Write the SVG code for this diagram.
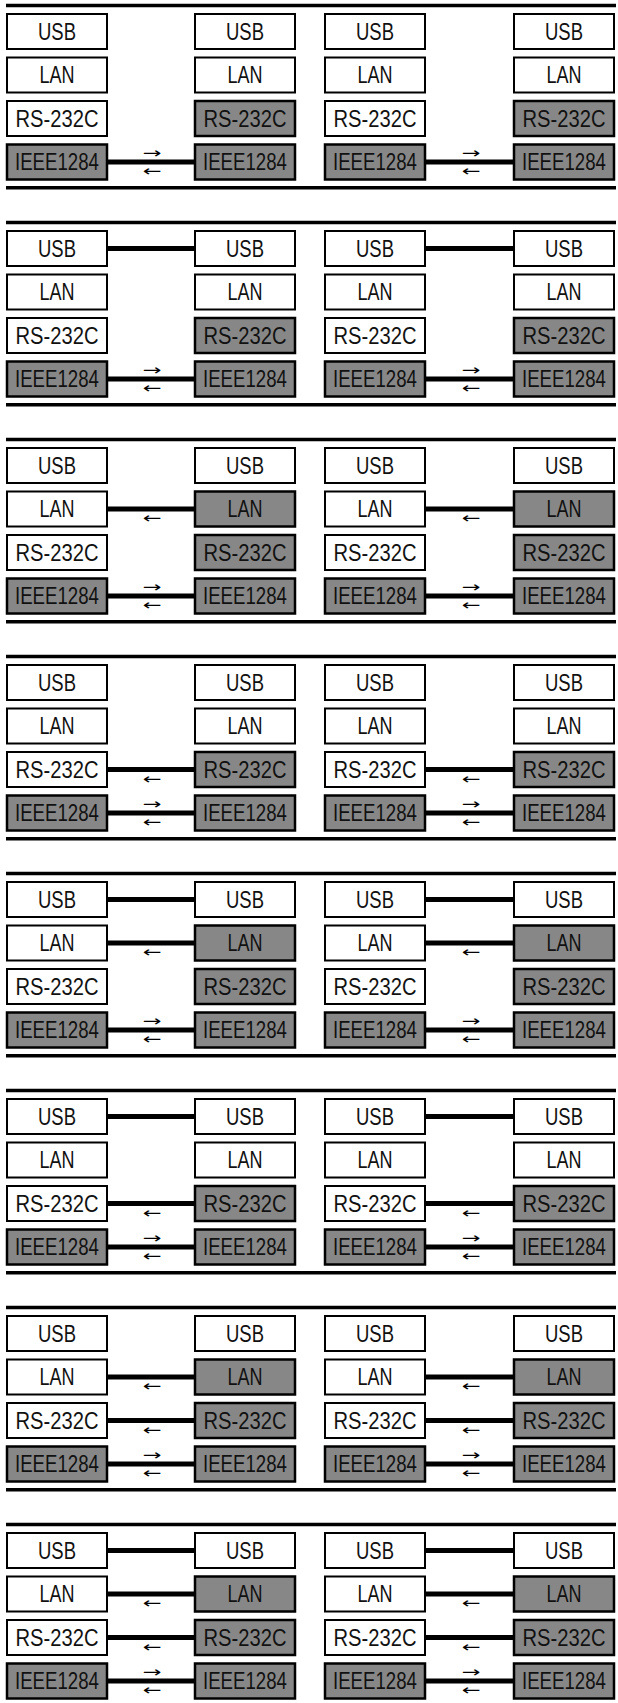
<svg xmlns="http://www.w3.org/2000/svg" width="618" height="1703" viewBox="0 0 618 1703">
<style>
.w{fill:#fff;stroke:#000;stroke-width:2}
.g{fill:#878787;stroke:#000;stroke-width:2.5}
.t{font-family:"Liberation Sans",Arial,sans-serif;font-size:19px;text-anchor:middle;fill:#111}
.sep{stroke:#000;stroke-width:3.5}
.c{stroke:#000;stroke-width:5}
.ar{font-family:"DejaVu Sans",sans-serif;font-size:15px;text-anchor:middle;fill:#000}
</style>
<rect width="618" height="1703" fill="#fff"/>
<g id="separators">
<line class="sep" x1="6" y1="5.5" x2="616" y2="5.5"/><line class="sep" x1="6" y1="187.75" x2="616" y2="187.75"/>
<line class="sep" x1="6" y1="222.5" x2="616" y2="222.5"/><line class="sep" x1="6" y1="404.75" x2="616" y2="404.75"/>
<line class="sep" x1="6" y1="439.5" x2="616" y2="439.5"/><line class="sep" x1="6" y1="621.75" x2="616" y2="621.75"/>
<line class="sep" x1="6" y1="656.5" x2="616" y2="656.5"/><line class="sep" x1="6" y1="838.75" x2="616" y2="838.75"/>
<line class="sep" x1="6" y1="873.5" x2="616" y2="873.5"/><line class="sep" x1="6" y1="1055.75" x2="616" y2="1055.75"/>
<line class="sep" x1="6" y1="1090.5" x2="616" y2="1090.5"/><line class="sep" x1="6" y1="1272.75" x2="616" y2="1272.75"/>
<line class="sep" x1="6" y1="1307.5" x2="616" y2="1307.5"/><line class="sep" x1="6" y1="1489.75" x2="616" y2="1489.75"/>
<line class="sep" x1="6" y1="1524.5" x2="616" y2="1524.5"/>
</g>

<g id="s1" transform="translate(0,0)">
<g id="s1-a-usb"><rect class="w" x="7" y="14" width="100" height="35"/><text class="t" transform="scale(1,1.25)" x="57" y="32" textLength="38" lengthAdjust="spacingAndGlyphs">USB</text></g>
<g id="s1-a-lan"><rect class="w" x="7" y="57.5" width="100" height="35"/><text class="t" transform="scale(1,1.25)" x="57" y="66.8" textLength="35" lengthAdjust="spacingAndGlyphs">LAN</text></g>
<g id="s1-a-rs"><rect class="w" x="7" y="101" width="100" height="35"/><text class="t" transform="scale(1,1.25)" x="57" y="101.6" textLength="83" lengthAdjust="spacingAndGlyphs">RS-232C</text></g>
<g id="s1-a-ieee"><rect class="g" x="7" y="144.5" width="100" height="35"/><text class="t" transform="scale(1,1.25)" x="57" y="136.4" textLength="84" lengthAdjust="spacingAndGlyphs">IEEE1284</text></g>
<g id="s1-b-usb"><rect class="w" x="195" y="14" width="100" height="35"/><text class="t" transform="scale(1,1.25)" x="245" y="32" textLength="38" lengthAdjust="spacingAndGlyphs">USB</text></g>
<g id="s1-b-lan"><rect class="w" x="195" y="57.5" width="100" height="35"/><text class="t" transform="scale(1,1.25)" x="245" y="66.8" textLength="35" lengthAdjust="spacingAndGlyphs">LAN</text></g>
<g id="s1-b-rs"><rect class="g" x="195" y="101" width="100" height="35"/><text class="t" transform="scale(1,1.25)" x="245" y="101.6" textLength="83" lengthAdjust="spacingAndGlyphs">RS-232C</text></g>
<g id="s1-b-ieee"><rect class="g" x="195" y="144.5" width="100" height="35"/><text class="t" transform="scale(1,1.25)" x="245" y="136.4" textLength="84" lengthAdjust="spacingAndGlyphs">IEEE1284</text></g>
<g id="s1-c-usb"><rect class="w" x="325" y="14" width="100" height="35"/><text class="t" transform="scale(1,1.25)" x="375" y="32" textLength="38" lengthAdjust="spacingAndGlyphs">USB</text></g>
<g id="s1-c-lan"><rect class="w" x="325" y="57.5" width="100" height="35"/><text class="t" transform="scale(1,1.25)" x="375" y="66.8" textLength="35" lengthAdjust="spacingAndGlyphs">LAN</text></g>
<g id="s1-c-rs"><rect class="w" x="325" y="101" width="100" height="35"/><text class="t" transform="scale(1,1.25)" x="375" y="101.6" textLength="83" lengthAdjust="spacingAndGlyphs">RS-232C</text></g>
<g id="s1-c-ieee"><rect class="g" x="325" y="144.5" width="100" height="35"/><text class="t" transform="scale(1,1.25)" x="375" y="136.4" textLength="84" lengthAdjust="spacingAndGlyphs">IEEE1284</text></g>
<g id="s1-d-usb"><rect class="w" x="514" y="14" width="100" height="35"/><text class="t" transform="scale(1,1.25)" x="564" y="32" textLength="38" lengthAdjust="spacingAndGlyphs">USB</text></g>
<g id="s1-d-lan"><rect class="w" x="514" y="57.5" width="100" height="35"/><text class="t" transform="scale(1,1.25)" x="564" y="66.8" textLength="35" lengthAdjust="spacingAndGlyphs">LAN</text></g>
<g id="s1-d-rs"><rect class="g" x="514" y="101" width="100" height="35"/><text class="t" transform="scale(1,1.25)" x="564" y="101.6" textLength="83" lengthAdjust="spacingAndGlyphs">RS-232C</text></g>
<g id="s1-d-ieee"><rect class="g" x="514" y="144.5" width="100" height="35"/><text class="t" transform="scale(1,1.25)" x="564" y="136.4" textLength="84" lengthAdjust="spacingAndGlyphs">IEEE1284</text></g>
</g>

<g id="s2" transform="translate(0,217)">
<g id="s2-a-usb"><rect class="w" x="7" y="14" width="100" height="35"/><text class="t" transform="scale(1,1.25)" x="57" y="32" textLength="38" lengthAdjust="spacingAndGlyphs">USB</text></g>
<g id="s2-a-lan"><rect class="w" x="7" y="57.5" width="100" height="35"/><text class="t" transform="scale(1,1.25)" x="57" y="66.8" textLength="35" lengthAdjust="spacingAndGlyphs">LAN</text></g>
<g id="s2-a-rs"><rect class="w" x="7" y="101" width="100" height="35"/><text class="t" transform="scale(1,1.25)" x="57" y="101.6" textLength="83" lengthAdjust="spacingAndGlyphs">RS-232C</text></g>
<g id="s2-a-ieee"><rect class="g" x="7" y="144.5" width="100" height="35"/><text class="t" transform="scale(1,1.25)" x="57" y="136.4" textLength="84" lengthAdjust="spacingAndGlyphs">IEEE1284</text></g>
<g id="s2-b-usb"><rect class="w" x="195" y="14" width="100" height="35"/><text class="t" transform="scale(1,1.25)" x="245" y="32" textLength="38" lengthAdjust="spacingAndGlyphs">USB</text></g>
<g id="s2-b-lan"><rect class="w" x="195" y="57.5" width="100" height="35"/><text class="t" transform="scale(1,1.25)" x="245" y="66.8" textLength="35" lengthAdjust="spacingAndGlyphs">LAN</text></g>
<g id="s2-b-rs"><rect class="g" x="195" y="101" width="100" height="35"/><text class="t" transform="scale(1,1.25)" x="245" y="101.6" textLength="83" lengthAdjust="spacingAndGlyphs">RS-232C</text></g>
<g id="s2-b-ieee"><rect class="g" x="195" y="144.5" width="100" height="35"/><text class="t" transform="scale(1,1.25)" x="245" y="136.4" textLength="84" lengthAdjust="spacingAndGlyphs">IEEE1284</text></g>
<g id="s2-c-usb"><rect class="w" x="325" y="14" width="100" height="35"/><text class="t" transform="scale(1,1.25)" x="375" y="32" textLength="38" lengthAdjust="spacingAndGlyphs">USB</text></g>
<g id="s2-c-lan"><rect class="w" x="325" y="57.5" width="100" height="35"/><text class="t" transform="scale(1,1.25)" x="375" y="66.8" textLength="35" lengthAdjust="spacingAndGlyphs">LAN</text></g>
<g id="s2-c-rs"><rect class="w" x="325" y="101" width="100" height="35"/><text class="t" transform="scale(1,1.25)" x="375" y="101.6" textLength="83" lengthAdjust="spacingAndGlyphs">RS-232C</text></g>
<g id="s2-c-ieee"><rect class="g" x="325" y="144.5" width="100" height="35"/><text class="t" transform="scale(1,1.25)" x="375" y="136.4" textLength="84" lengthAdjust="spacingAndGlyphs">IEEE1284</text></g>
<g id="s2-d-usb"><rect class="w" x="514" y="14" width="100" height="35"/><text class="t" transform="scale(1,1.25)" x="564" y="32" textLength="38" lengthAdjust="spacingAndGlyphs">USB</text></g>
<g id="s2-d-lan"><rect class="w" x="514" y="57.5" width="100" height="35"/><text class="t" transform="scale(1,1.25)" x="564" y="66.8" textLength="35" lengthAdjust="spacingAndGlyphs">LAN</text></g>
<g id="s2-d-rs"><rect class="g" x="514" y="101" width="100" height="35"/><text class="t" transform="scale(1,1.25)" x="564" y="101.6" textLength="83" lengthAdjust="spacingAndGlyphs">RS-232C</text></g>
<g id="s2-d-ieee"><rect class="g" x="514" y="144.5" width="100" height="35"/><text class="t" transform="scale(1,1.25)" x="564" y="136.4" textLength="84" lengthAdjust="spacingAndGlyphs">IEEE1284</text></g>
</g>

<g id="s3" transform="translate(0,434)">
<g id="s3-a-usb"><rect class="w" x="7" y="14" width="100" height="35"/><text class="t" transform="scale(1,1.25)" x="57" y="32" textLength="38" lengthAdjust="spacingAndGlyphs">USB</text></g>
<g id="s3-a-lan"><rect class="w" x="7" y="57.5" width="100" height="35"/><text class="t" transform="scale(1,1.25)" x="57" y="66.8" textLength="35" lengthAdjust="spacingAndGlyphs">LAN</text></g>
<g id="s3-a-rs"><rect class="w" x="7" y="101" width="100" height="35"/><text class="t" transform="scale(1,1.25)" x="57" y="101.6" textLength="83" lengthAdjust="spacingAndGlyphs">RS-232C</text></g>
<g id="s3-a-ieee"><rect class="g" x="7" y="144.5" width="100" height="35"/><text class="t" transform="scale(1,1.25)" x="57" y="136.4" textLength="84" lengthAdjust="spacingAndGlyphs">IEEE1284</text></g>
<g id="s3-b-usb"><rect class="w" x="195" y="14" width="100" height="35"/><text class="t" transform="scale(1,1.25)" x="245" y="32" textLength="38" lengthAdjust="spacingAndGlyphs">USB</text></g>
<g id="s3-b-lan"><rect class="g" x="195" y="57.5" width="100" height="35"/><text class="t" transform="scale(1,1.25)" x="245" y="66.8" textLength="35" lengthAdjust="spacingAndGlyphs">LAN</text></g>
<g id="s3-b-rs"><rect class="g" x="195" y="101" width="100" height="35"/><text class="t" transform="scale(1,1.25)" x="245" y="101.6" textLength="83" lengthAdjust="spacingAndGlyphs">RS-232C</text></g>
<g id="s3-b-ieee"><rect class="g" x="195" y="144.5" width="100" height="35"/><text class="t" transform="scale(1,1.25)" x="245" y="136.4" textLength="84" lengthAdjust="spacingAndGlyphs">IEEE1284</text></g>
<g id="s3-c-usb"><rect class="w" x="325" y="14" width="100" height="35"/><text class="t" transform="scale(1,1.25)" x="375" y="32" textLength="38" lengthAdjust="spacingAndGlyphs">USB</text></g>
<g id="s3-c-lan"><rect class="w" x="325" y="57.5" width="100" height="35"/><text class="t" transform="scale(1,1.25)" x="375" y="66.8" textLength="35" lengthAdjust="spacingAndGlyphs">LAN</text></g>
<g id="s3-c-rs"><rect class="w" x="325" y="101" width="100" height="35"/><text class="t" transform="scale(1,1.25)" x="375" y="101.6" textLength="83" lengthAdjust="spacingAndGlyphs">RS-232C</text></g>
<g id="s3-c-ieee"><rect class="g" x="325" y="144.5" width="100" height="35"/><text class="t" transform="scale(1,1.25)" x="375" y="136.4" textLength="84" lengthAdjust="spacingAndGlyphs">IEEE1284</text></g>
<g id="s3-d-usb"><rect class="w" x="514" y="14" width="100" height="35"/><text class="t" transform="scale(1,1.25)" x="564" y="32" textLength="38" lengthAdjust="spacingAndGlyphs">USB</text></g>
<g id="s3-d-lan"><rect class="g" x="514" y="57.5" width="100" height="35"/><text class="t" transform="scale(1,1.25)" x="564" y="66.8" textLength="35" lengthAdjust="spacingAndGlyphs">LAN</text></g>
<g id="s3-d-rs"><rect class="g" x="514" y="101" width="100" height="35"/><text class="t" transform="scale(1,1.25)" x="564" y="101.6" textLength="83" lengthAdjust="spacingAndGlyphs">RS-232C</text></g>
<g id="s3-d-ieee"><rect class="g" x="514" y="144.5" width="100" height="35"/><text class="t" transform="scale(1,1.25)" x="564" y="136.4" textLength="84" lengthAdjust="spacingAndGlyphs">IEEE1284</text></g>
</g>

<g id="s4" transform="translate(0,651)">
<g id="s4-a-usb"><rect class="w" x="7" y="14" width="100" height="35"/><text class="t" transform="scale(1,1.25)" x="57" y="32" textLength="38" lengthAdjust="spacingAndGlyphs">USB</text></g>
<g id="s4-a-lan"><rect class="w" x="7" y="57.5" width="100" height="35"/><text class="t" transform="scale(1,1.25)" x="57" y="66.8" textLength="35" lengthAdjust="spacingAndGlyphs">LAN</text></g>
<g id="s4-a-rs"><rect class="w" x="7" y="101" width="100" height="35"/><text class="t" transform="scale(1,1.25)" x="57" y="101.6" textLength="83" lengthAdjust="spacingAndGlyphs">RS-232C</text></g>
<g id="s4-a-ieee"><rect class="g" x="7" y="144.5" width="100" height="35"/><text class="t" transform="scale(1,1.25)" x="57" y="136.4" textLength="84" lengthAdjust="spacingAndGlyphs">IEEE1284</text></g>
<g id="s4-b-usb"><rect class="w" x="195" y="14" width="100" height="35"/><text class="t" transform="scale(1,1.25)" x="245" y="32" textLength="38" lengthAdjust="spacingAndGlyphs">USB</text></g>
<g id="s4-b-lan"><rect class="w" x="195" y="57.5" width="100" height="35"/><text class="t" transform="scale(1,1.25)" x="245" y="66.8" textLength="35" lengthAdjust="spacingAndGlyphs">LAN</text></g>
<g id="s4-b-rs"><rect class="g" x="195" y="101" width="100" height="35"/><text class="t" transform="scale(1,1.25)" x="245" y="101.6" textLength="83" lengthAdjust="spacingAndGlyphs">RS-232C</text></g>
<g id="s4-b-ieee"><rect class="g" x="195" y="144.5" width="100" height="35"/><text class="t" transform="scale(1,1.25)" x="245" y="136.4" textLength="84" lengthAdjust="spacingAndGlyphs">IEEE1284</text></g>
<g id="s4-c-usb"><rect class="w" x="325" y="14" width="100" height="35"/><text class="t" transform="scale(1,1.25)" x="375" y="32" textLength="38" lengthAdjust="spacingAndGlyphs">USB</text></g>
<g id="s4-c-lan"><rect class="w" x="325" y="57.5" width="100" height="35"/><text class="t" transform="scale(1,1.25)" x="375" y="66.8" textLength="35" lengthAdjust="spacingAndGlyphs">LAN</text></g>
<g id="s4-c-rs"><rect class="w" x="325" y="101" width="100" height="35"/><text class="t" transform="scale(1,1.25)" x="375" y="101.6" textLength="83" lengthAdjust="spacingAndGlyphs">RS-232C</text></g>
<g id="s4-c-ieee"><rect class="g" x="325" y="144.5" width="100" height="35"/><text class="t" transform="scale(1,1.25)" x="375" y="136.4" textLength="84" lengthAdjust="spacingAndGlyphs">IEEE1284</text></g>
<g id="s4-d-usb"><rect class="w" x="514" y="14" width="100" height="35"/><text class="t" transform="scale(1,1.25)" x="564" y="32" textLength="38" lengthAdjust="spacingAndGlyphs">USB</text></g>
<g id="s4-d-lan"><rect class="w" x="514" y="57.5" width="100" height="35"/><text class="t" transform="scale(1,1.25)" x="564" y="66.8" textLength="35" lengthAdjust="spacingAndGlyphs">LAN</text></g>
<g id="s4-d-rs"><rect class="g" x="514" y="101" width="100" height="35"/><text class="t" transform="scale(1,1.25)" x="564" y="101.6" textLength="83" lengthAdjust="spacingAndGlyphs">RS-232C</text></g>
<g id="s4-d-ieee"><rect class="g" x="514" y="144.5" width="100" height="35"/><text class="t" transform="scale(1,1.25)" x="564" y="136.4" textLength="84" lengthAdjust="spacingAndGlyphs">IEEE1284</text></g>
</g>

<g id="s5" transform="translate(0,868)">
<g id="s5-a-usb"><rect class="w" x="7" y="14" width="100" height="35"/><text class="t" transform="scale(1,1.25)" x="57" y="32" textLength="38" lengthAdjust="spacingAndGlyphs">USB</text></g>
<g id="s5-a-lan"><rect class="w" x="7" y="57.5" width="100" height="35"/><text class="t" transform="scale(1,1.25)" x="57" y="66.8" textLength="35" lengthAdjust="spacingAndGlyphs">LAN</text></g>
<g id="s5-a-rs"><rect class="w" x="7" y="101" width="100" height="35"/><text class="t" transform="scale(1,1.25)" x="57" y="101.6" textLength="83" lengthAdjust="spacingAndGlyphs">RS-232C</text></g>
<g id="s5-a-ieee"><rect class="g" x="7" y="144.5" width="100" height="35"/><text class="t" transform="scale(1,1.25)" x="57" y="136.4" textLength="84" lengthAdjust="spacingAndGlyphs">IEEE1284</text></g>
<g id="s5-b-usb"><rect class="w" x="195" y="14" width="100" height="35"/><text class="t" transform="scale(1,1.25)" x="245" y="32" textLength="38" lengthAdjust="spacingAndGlyphs">USB</text></g>
<g id="s5-b-lan"><rect class="g" x="195" y="57.5" width="100" height="35"/><text class="t" transform="scale(1,1.25)" x="245" y="66.8" textLength="35" lengthAdjust="spacingAndGlyphs">LAN</text></g>
<g id="s5-b-rs"><rect class="g" x="195" y="101" width="100" height="35"/><text class="t" transform="scale(1,1.25)" x="245" y="101.6" textLength="83" lengthAdjust="spacingAndGlyphs">RS-232C</text></g>
<g id="s5-b-ieee"><rect class="g" x="195" y="144.5" width="100" height="35"/><text class="t" transform="scale(1,1.25)" x="245" y="136.4" textLength="84" lengthAdjust="spacingAndGlyphs">IEEE1284</text></g>
<g id="s5-c-usb"><rect class="w" x="325" y="14" width="100" height="35"/><text class="t" transform="scale(1,1.25)" x="375" y="32" textLength="38" lengthAdjust="spacingAndGlyphs">USB</text></g>
<g id="s5-c-lan"><rect class="w" x="325" y="57.5" width="100" height="35"/><text class="t" transform="scale(1,1.25)" x="375" y="66.8" textLength="35" lengthAdjust="spacingAndGlyphs">LAN</text></g>
<g id="s5-c-rs"><rect class="w" x="325" y="101" width="100" height="35"/><text class="t" transform="scale(1,1.25)" x="375" y="101.6" textLength="83" lengthAdjust="spacingAndGlyphs">RS-232C</text></g>
<g id="s5-c-ieee"><rect class="g" x="325" y="144.5" width="100" height="35"/><text class="t" transform="scale(1,1.25)" x="375" y="136.4" textLength="84" lengthAdjust="spacingAndGlyphs">IEEE1284</text></g>
<g id="s5-d-usb"><rect class="w" x="514" y="14" width="100" height="35"/><text class="t" transform="scale(1,1.25)" x="564" y="32" textLength="38" lengthAdjust="spacingAndGlyphs">USB</text></g>
<g id="s5-d-lan"><rect class="g" x="514" y="57.5" width="100" height="35"/><text class="t" transform="scale(1,1.25)" x="564" y="66.8" textLength="35" lengthAdjust="spacingAndGlyphs">LAN</text></g>
<g id="s5-d-rs"><rect class="g" x="514" y="101" width="100" height="35"/><text class="t" transform="scale(1,1.25)" x="564" y="101.6" textLength="83" lengthAdjust="spacingAndGlyphs">RS-232C</text></g>
<g id="s5-d-ieee"><rect class="g" x="514" y="144.5" width="100" height="35"/><text class="t" transform="scale(1,1.25)" x="564" y="136.4" textLength="84" lengthAdjust="spacingAndGlyphs">IEEE1284</text></g>
</g>

<g id="s6" transform="translate(0,1085)">
<g id="s6-a-usb"><rect class="w" x="7" y="14" width="100" height="35"/><text class="t" transform="scale(1,1.25)" x="57" y="32" textLength="38" lengthAdjust="spacingAndGlyphs">USB</text></g>
<g id="s6-a-lan"><rect class="w" x="7" y="57.5" width="100" height="35"/><text class="t" transform="scale(1,1.25)" x="57" y="66.8" textLength="35" lengthAdjust="spacingAndGlyphs">LAN</text></g>
<g id="s6-a-rs"><rect class="w" x="7" y="101" width="100" height="35"/><text class="t" transform="scale(1,1.25)" x="57" y="101.6" textLength="83" lengthAdjust="spacingAndGlyphs">RS-232C</text></g>
<g id="s6-a-ieee"><rect class="g" x="7" y="144.5" width="100" height="35"/><text class="t" transform="scale(1,1.25)" x="57" y="136.4" textLength="84" lengthAdjust="spacingAndGlyphs">IEEE1284</text></g>
<g id="s6-b-usb"><rect class="w" x="195" y="14" width="100" height="35"/><text class="t" transform="scale(1,1.25)" x="245" y="32" textLength="38" lengthAdjust="spacingAndGlyphs">USB</text></g>
<g id="s6-b-lan"><rect class="w" x="195" y="57.5" width="100" height="35"/><text class="t" transform="scale(1,1.25)" x="245" y="66.8" textLength="35" lengthAdjust="spacingAndGlyphs">LAN</text></g>
<g id="s6-b-rs"><rect class="g" x="195" y="101" width="100" height="35"/><text class="t" transform="scale(1,1.25)" x="245" y="101.6" textLength="83" lengthAdjust="spacingAndGlyphs">RS-232C</text></g>
<g id="s6-b-ieee"><rect class="g" x="195" y="144.5" width="100" height="35"/><text class="t" transform="scale(1,1.25)" x="245" y="136.4" textLength="84" lengthAdjust="spacingAndGlyphs">IEEE1284</text></g>
<g id="s6-c-usb"><rect class="w" x="325" y="14" width="100" height="35"/><text class="t" transform="scale(1,1.25)" x="375" y="32" textLength="38" lengthAdjust="spacingAndGlyphs">USB</text></g>
<g id="s6-c-lan"><rect class="w" x="325" y="57.5" width="100" height="35"/><text class="t" transform="scale(1,1.25)" x="375" y="66.8" textLength="35" lengthAdjust="spacingAndGlyphs">LAN</text></g>
<g id="s6-c-rs"><rect class="w" x="325" y="101" width="100" height="35"/><text class="t" transform="scale(1,1.25)" x="375" y="101.6" textLength="83" lengthAdjust="spacingAndGlyphs">RS-232C</text></g>
<g id="s6-c-ieee"><rect class="g" x="325" y="144.5" width="100" height="35"/><text class="t" transform="scale(1,1.25)" x="375" y="136.4" textLength="84" lengthAdjust="spacingAndGlyphs">IEEE1284</text></g>
<g id="s6-d-usb"><rect class="w" x="514" y="14" width="100" height="35"/><text class="t" transform="scale(1,1.25)" x="564" y="32" textLength="38" lengthAdjust="spacingAndGlyphs">USB</text></g>
<g id="s6-d-lan"><rect class="w" x="514" y="57.5" width="100" height="35"/><text class="t" transform="scale(1,1.25)" x="564" y="66.8" textLength="35" lengthAdjust="spacingAndGlyphs">LAN</text></g>
<g id="s6-d-rs"><rect class="g" x="514" y="101" width="100" height="35"/><text class="t" transform="scale(1,1.25)" x="564" y="101.6" textLength="83" lengthAdjust="spacingAndGlyphs">RS-232C</text></g>
<g id="s6-d-ieee"><rect class="g" x="514" y="144.5" width="100" height="35"/><text class="t" transform="scale(1,1.25)" x="564" y="136.4" textLength="84" lengthAdjust="spacingAndGlyphs">IEEE1284</text></g>
</g>

<g id="s7" transform="translate(0,1302)">
<g id="s7-a-usb"><rect class="w" x="7" y="14" width="100" height="35"/><text class="t" transform="scale(1,1.25)" x="57" y="32" textLength="38" lengthAdjust="spacingAndGlyphs">USB</text></g>
<g id="s7-a-lan"><rect class="w" x="7" y="57.5" width="100" height="35"/><text class="t" transform="scale(1,1.25)" x="57" y="66.8" textLength="35" lengthAdjust="spacingAndGlyphs">LAN</text></g>
<g id="s7-a-rs"><rect class="w" x="7" y="101" width="100" height="35"/><text class="t" transform="scale(1,1.25)" x="57" y="101.6" textLength="83" lengthAdjust="spacingAndGlyphs">RS-232C</text></g>
<g id="s7-a-ieee"><rect class="g" x="7" y="144.5" width="100" height="35"/><text class="t" transform="scale(1,1.25)" x="57" y="136.4" textLength="84" lengthAdjust="spacingAndGlyphs">IEEE1284</text></g>
<g id="s7-b-usb"><rect class="w" x="195" y="14" width="100" height="35"/><text class="t" transform="scale(1,1.25)" x="245" y="32" textLength="38" lengthAdjust="spacingAndGlyphs">USB</text></g>
<g id="s7-b-lan"><rect class="g" x="195" y="57.5" width="100" height="35"/><text class="t" transform="scale(1,1.25)" x="245" y="66.8" textLength="35" lengthAdjust="spacingAndGlyphs">LAN</text></g>
<g id="s7-b-rs"><rect class="g" x="195" y="101" width="100" height="35"/><text class="t" transform="scale(1,1.25)" x="245" y="101.6" textLength="83" lengthAdjust="spacingAndGlyphs">RS-232C</text></g>
<g id="s7-b-ieee"><rect class="g" x="195" y="144.5" width="100" height="35"/><text class="t" transform="scale(1,1.25)" x="245" y="136.4" textLength="84" lengthAdjust="spacingAndGlyphs">IEEE1284</text></g>
<g id="s7-c-usb"><rect class="w" x="325" y="14" width="100" height="35"/><text class="t" transform="scale(1,1.25)" x="375" y="32" textLength="38" lengthAdjust="spacingAndGlyphs">USB</text></g>
<g id="s7-c-lan"><rect class="w" x="325" y="57.5" width="100" height="35"/><text class="t" transform="scale(1,1.25)" x="375" y="66.8" textLength="35" lengthAdjust="spacingAndGlyphs">LAN</text></g>
<g id="s7-c-rs"><rect class="w" x="325" y="101" width="100" height="35"/><text class="t" transform="scale(1,1.25)" x="375" y="101.6" textLength="83" lengthAdjust="spacingAndGlyphs">RS-232C</text></g>
<g id="s7-c-ieee"><rect class="g" x="325" y="144.5" width="100" height="35"/><text class="t" transform="scale(1,1.25)" x="375" y="136.4" textLength="84" lengthAdjust="spacingAndGlyphs">IEEE1284</text></g>
<g id="s7-d-usb"><rect class="w" x="514" y="14" width="100" height="35"/><text class="t" transform="scale(1,1.25)" x="564" y="32" textLength="38" lengthAdjust="spacingAndGlyphs">USB</text></g>
<g id="s7-d-lan"><rect class="g" x="514" y="57.5" width="100" height="35"/><text class="t" transform="scale(1,1.25)" x="564" y="66.8" textLength="35" lengthAdjust="spacingAndGlyphs">LAN</text></g>
<g id="s7-d-rs"><rect class="g" x="514" y="101" width="100" height="35"/><text class="t" transform="scale(1,1.25)" x="564" y="101.6" textLength="83" lengthAdjust="spacingAndGlyphs">RS-232C</text></g>
<g id="s7-d-ieee"><rect class="g" x="514" y="144.5" width="100" height="35"/><text class="t" transform="scale(1,1.25)" x="564" y="136.4" textLength="84" lengthAdjust="spacingAndGlyphs">IEEE1284</text></g>
</g>

<g id="s8" transform="translate(0,1519)">
<g id="s8-a-usb"><rect class="w" x="7" y="14" width="100" height="35"/><text class="t" transform="scale(1,1.25)" x="57" y="32" textLength="38" lengthAdjust="spacingAndGlyphs">USB</text></g>
<g id="s8-a-lan"><rect class="w" x="7" y="57.5" width="100" height="35"/><text class="t" transform="scale(1,1.25)" x="57" y="66.8" textLength="35" lengthAdjust="spacingAndGlyphs">LAN</text></g>
<g id="s8-a-rs"><rect class="w" x="7" y="101" width="100" height="35"/><text class="t" transform="scale(1,1.25)" x="57" y="101.6" textLength="83" lengthAdjust="spacingAndGlyphs">RS-232C</text></g>
<g id="s8-a-ieee"><rect class="g" x="7" y="144.5" width="100" height="35"/><text class="t" transform="scale(1,1.25)" x="57" y="136.4" textLength="84" lengthAdjust="spacingAndGlyphs">IEEE1284</text></g>
<g id="s8-b-usb"><rect class="w" x="195" y="14" width="100" height="35"/><text class="t" transform="scale(1,1.25)" x="245" y="32" textLength="38" lengthAdjust="spacingAndGlyphs">USB</text></g>
<g id="s8-b-lan"><rect class="g" x="195" y="57.5" width="100" height="35"/><text class="t" transform="scale(1,1.25)" x="245" y="66.8" textLength="35" lengthAdjust="spacingAndGlyphs">LAN</text></g>
<g id="s8-b-rs"><rect class="g" x="195" y="101" width="100" height="35"/><text class="t" transform="scale(1,1.25)" x="245" y="101.6" textLength="83" lengthAdjust="spacingAndGlyphs">RS-232C</text></g>
<g id="s8-b-ieee"><rect class="g" x="195" y="144.5" width="100" height="35"/><text class="t" transform="scale(1,1.25)" x="245" y="136.4" textLength="84" lengthAdjust="spacingAndGlyphs">IEEE1284</text></g>
<g id="s8-c-usb"><rect class="w" x="325" y="14" width="100" height="35"/><text class="t" transform="scale(1,1.25)" x="375" y="32" textLength="38" lengthAdjust="spacingAndGlyphs">USB</text></g>
<g id="s8-c-lan"><rect class="w" x="325" y="57.5" width="100" height="35"/><text class="t" transform="scale(1,1.25)" x="375" y="66.8" textLength="35" lengthAdjust="spacingAndGlyphs">LAN</text></g>
<g id="s8-c-rs"><rect class="w" x="325" y="101" width="100" height="35"/><text class="t" transform="scale(1,1.25)" x="375" y="101.6" textLength="83" lengthAdjust="spacingAndGlyphs">RS-232C</text></g>
<g id="s8-c-ieee"><rect class="g" x="325" y="144.5" width="100" height="35"/><text class="t" transform="scale(1,1.25)" x="375" y="136.4" textLength="84" lengthAdjust="spacingAndGlyphs">IEEE1284</text></g>
<g id="s8-d-usb"><rect class="w" x="514" y="14" width="100" height="35"/><text class="t" transform="scale(1,1.25)" x="564" y="32" textLength="38" lengthAdjust="spacingAndGlyphs">USB</text></g>
<g id="s8-d-lan"><rect class="g" x="514" y="57.5" width="100" height="35"/><text class="t" transform="scale(1,1.25)" x="564" y="66.8" textLength="35" lengthAdjust="spacingAndGlyphs">LAN</text></g>
<g id="s8-d-rs"><rect class="g" x="514" y="101" width="100" height="35"/><text class="t" transform="scale(1,1.25)" x="564" y="101.6" textLength="83" lengthAdjust="spacingAndGlyphs">RS-232C</text></g>
<g id="s8-d-ieee"><rect class="g" x="514" y="144.5" width="100" height="35"/><text class="t" transform="scale(1,1.25)" x="564" y="136.4" textLength="84" lengthAdjust="spacingAndGlyphs">IEEE1284</text></g>
</g>

<g id="connectors">
<g transform="translate(0,0)">
<line class="c" x1="107" y1="162" x2="195" y2="162"/><text class="ar" transform="translate(152,158) scale(1.5,1)">→</text><text class="ar" transform="translate(152,176) scale(1.5,1)">←</text>
<line class="c" x1="426" y1="162" x2="514" y2="162"/><text class="ar" transform="translate(471,158) scale(1.5,1)">→</text><text class="ar" transform="translate(471,176) scale(1.5,1)">←</text>
</g>
<g transform="translate(0,217)">
<line class="c" x1="107" y1="31.5" x2="195" y2="31.5"/>
<line class="c" x1="426" y1="31.5" x2="514" y2="31.5"/>
<line class="c" x1="107" y1="162" x2="195" y2="162"/><text class="ar" transform="translate(152,158) scale(1.5,1)">→</text><text class="ar" transform="translate(152,176) scale(1.5,1)">←</text>
<line class="c" x1="426" y1="162" x2="514" y2="162"/><text class="ar" transform="translate(471,158) scale(1.5,1)">→</text><text class="ar" transform="translate(471,176) scale(1.5,1)">←</text>
</g>
<g transform="translate(0,434)">
<line class="c" x1="107" y1="75" x2="195" y2="75"/><text class="ar" transform="translate(152,89) scale(1.5,1)">←</text>
<line class="c" x1="426" y1="75" x2="514" y2="75"/><text class="ar" transform="translate(471,89) scale(1.5,1)">←</text>
<line class="c" x1="107" y1="162" x2="195" y2="162"/><text class="ar" transform="translate(152,158) scale(1.5,1)">→</text><text class="ar" transform="translate(152,176) scale(1.5,1)">←</text>
<line class="c" x1="426" y1="162" x2="514" y2="162"/><text class="ar" transform="translate(471,158) scale(1.5,1)">→</text><text class="ar" transform="translate(471,176) scale(1.5,1)">←</text>
</g>
<g transform="translate(0,651)">
<line class="c" x1="107" y1="118.5" x2="195" y2="118.5"/><text class="ar" transform="translate(152,132.5) scale(1.5,1)">←</text>
<line class="c" x1="426" y1="118.5" x2="514" y2="118.5"/><text class="ar" transform="translate(471,132.5) scale(1.5,1)">←</text>
<line class="c" x1="107" y1="162" x2="195" y2="162"/><text class="ar" transform="translate(152,158) scale(1.5,1)">→</text><text class="ar" transform="translate(152,176) scale(1.5,1)">←</text>
<line class="c" x1="426" y1="162" x2="514" y2="162"/><text class="ar" transform="translate(471,158) scale(1.5,1)">→</text><text class="ar" transform="translate(471,176) scale(1.5,1)">←</text>
</g>
<g transform="translate(0,868)">
<line class="c" x1="107" y1="31.5" x2="195" y2="31.5"/>
<line class="c" x1="426" y1="31.5" x2="514" y2="31.5"/>
<line class="c" x1="107" y1="75" x2="195" y2="75"/><text class="ar" transform="translate(152,89) scale(1.5,1)">←</text>
<line class="c" x1="426" y1="75" x2="514" y2="75"/><text class="ar" transform="translate(471,89) scale(1.5,1)">←</text>
<line class="c" x1="107" y1="162" x2="195" y2="162"/><text class="ar" transform="translate(152,158) scale(1.5,1)">→</text><text class="ar" transform="translate(152,176) scale(1.5,1)">←</text>
<line class="c" x1="426" y1="162" x2="514" y2="162"/><text class="ar" transform="translate(471,158) scale(1.5,1)">→</text><text class="ar" transform="translate(471,176) scale(1.5,1)">←</text>
</g>
<g transform="translate(0,1085)">
<line class="c" x1="107" y1="31.5" x2="195" y2="31.5"/>
<line class="c" x1="426" y1="31.5" x2="514" y2="31.5"/>
<line class="c" x1="107" y1="118.5" x2="195" y2="118.5"/><text class="ar" transform="translate(152,132.5) scale(1.5,1)">←</text>
<line class="c" x1="426" y1="118.5" x2="514" y2="118.5"/><text class="ar" transform="translate(471,132.5) scale(1.5,1)">←</text>
<line class="c" x1="107" y1="162" x2="195" y2="162"/><text class="ar" transform="translate(152,158) scale(1.5,1)">→</text><text class="ar" transform="translate(152,176) scale(1.5,1)">←</text>
<line class="c" x1="426" y1="162" x2="514" y2="162"/><text class="ar" transform="translate(471,158) scale(1.5,1)">→</text><text class="ar" transform="translate(471,176) scale(1.5,1)">←</text>
</g>
<g transform="translate(0,1302)">
<line class="c" x1="107" y1="75" x2="195" y2="75"/><text class="ar" transform="translate(152,89) scale(1.5,1)">←</text>
<line class="c" x1="426" y1="75" x2="514" y2="75"/><text class="ar" transform="translate(471,89) scale(1.5,1)">←</text>
<line class="c" x1="107" y1="118.5" x2="195" y2="118.5"/><text class="ar" transform="translate(152,132.5) scale(1.5,1)">←</text>
<line class="c" x1="426" y1="118.5" x2="514" y2="118.5"/><text class="ar" transform="translate(471,132.5) scale(1.5,1)">←</text>
<line class="c" x1="107" y1="162" x2="195" y2="162"/><text class="ar" transform="translate(152,158) scale(1.5,1)">→</text><text class="ar" transform="translate(152,176) scale(1.5,1)">←</text>
<line class="c" x1="426" y1="162" x2="514" y2="162"/><text class="ar" transform="translate(471,158) scale(1.5,1)">→</text><text class="ar" transform="translate(471,176) scale(1.5,1)">←</text>
</g>
<g transform="translate(0,1519)">
<line class="c" x1="107" y1="31.5" x2="195" y2="31.5"/>
<line class="c" x1="426" y1="31.5" x2="514" y2="31.5"/>
<line class="c" x1="107" y1="75" x2="195" y2="75"/><text class="ar" transform="translate(152,89) scale(1.5,1)">←</text>
<line class="c" x1="426" y1="75" x2="514" y2="75"/><text class="ar" transform="translate(471,89) scale(1.5,1)">←</text>
<line class="c" x1="107" y1="118.5" x2="195" y2="118.5"/><text class="ar" transform="translate(152,132.5) scale(1.5,1)">←</text>
<line class="c" x1="426" y1="118.5" x2="514" y2="118.5"/><text class="ar" transform="translate(471,132.5) scale(1.5,1)">←</text>
<line class="c" x1="107" y1="162" x2="195" y2="162"/><text class="ar" transform="translate(152,158) scale(1.5,1)">→</text><text class="ar" transform="translate(152,176) scale(1.5,1)">←</text>
<line class="c" x1="426" y1="162" x2="514" y2="162"/><text class="ar" transform="translate(471,158) scale(1.5,1)">→</text><text class="ar" transform="translate(471,176) scale(1.5,1)">←</text>
</g>
</g>
</svg>
